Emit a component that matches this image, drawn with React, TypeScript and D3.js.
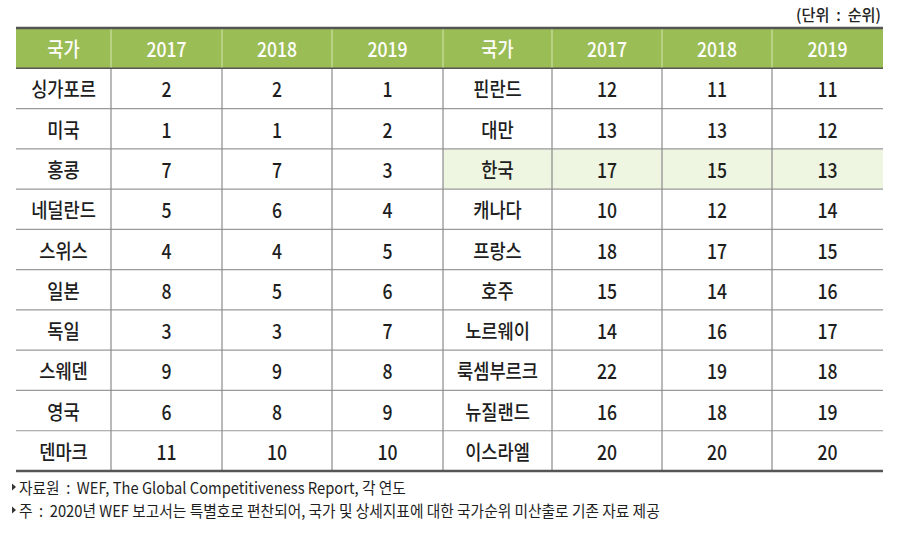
import React from "react";
import * as d3 from "d3";

const years = ["2017", "2018", "2019"];
const leftCountries = ["싱가포르", "미국", "홍콩", "네덜란드", "스위스", "일본", "독일", "스웨덴", "영국", "덴마크"];
const left2017 = [2, 1, 7, 5, 4, 8, 3, 9, 6, 11];
const left2018 = [2, 1, 7, 6, 4, 5, 3, 9, 8, 10];
const left2019 = [1, 2, 3, 4, 5, 6, 7, 8, 9, 10];
const rightCountries = ["핀란드", "대만", "한국", "캐나다", "프랑스", "호주", "노르웨이", "룩셈부르크", "뉴질랜드", "이스라엘"];
const right2017 = [12, 13, 17, 10, 18, 15, 14, 22, 16, 20];
const right2018 = [11, 13, 15, 12, 17, 14, 16, 19, 18, 20];
const right2019 = [11, 12, 13, 14, 15, 16, 17, 18, 19, 20];
const highlight = "한국";
const unitLabel = "(단위  :  순위)";
const notes = [
  "자료원  :  WEF, The Global Competitiveness Report, 각 연도",
  "주  :  2020년 WEF 보고서는 특별호로 편찬되어, 국가 및 상세지표에 대한 국가순위 미산출로 기존 자료 제공",
];

const W = 902;
const H = 535;
const colEdges = [16, 111, 222, 332, 443, 552, 662, 772, 883];
const FONT = "'Noto Sans CJK KR', 'Noto Sans', sans-serif";

export default function App() {
  const rowKeys = ["header", ...leftCountries.map((_, i) => String(i))];
  const y = d3.scaleBand<string>().domain(rowKeys).range([28, 471]);
  const bw = y.bandwidth();

  const rows = leftCountries.map((c, i) => [
    c,
    String(left2017[i]),
    String(left2018[i]),
    String(left2019[i]),
    rightCountries[i],
    String(right2017[i]),
    String(right2018[i]),
    String(right2019[i]),
  ]);
  const header = ["국가", ...years, "국가", ...years];
  const cx = (j: number) => (colEdges[j] + colEdges[j + 1]) / 2;
  const tableL = colEdges[0];
  const tableR = colEdges[colEdges.length - 1];

  const cellText = (t: string, x: number, yy: number, fill: string, key: string, size: number, weight: number) => (
    <text
      key={key}
      transform={`translate(${x},${yy}) scale(0.88,1)`}
      textAnchor="middle"
      dominantBaseline="central"
      fontFamily={FONT}
      fontSize={size}
      fontWeight={weight}
      fill={fill}
    >
      {t}
    </text>
  );

  return (
    <svg width={W} height={H} style={{ position: "absolute", left: 0, top: 0, background: "#fff" }}>
      {/* unit */}
      <text
        transform={`translate(${tableR - 2},14) scale(0.95,1)`}
        textAnchor="end"
        dominantBaseline="central"
        fontFamily={FONT}
        fontSize={16}
        fontWeight={500}
        fill="#222"
        style={{ whiteSpace: "pre" }}
      >
        {unitLabel}
      </text>

      {/* header */}
      <rect x={tableL} y={y("header")} width={tableR - tableL} height={bw} fill="#9bbd55" />
      {colEdges.slice(1, -1).map((e) => (
        <line key={"hv" + e} x1={e} x2={e} y1={y("header")!} y2={y("header")! + bw} stroke="#d4e4b0" strokeWidth={1} />
      ))}
      {header.map((h, j) => cellText(h, cx(j), y("header")! + bw / 2, "#fff", "h" + j, 20, 500))}

      {/* highlight */}
      {rightCountries.map((c, i) =>
        c === highlight ? (
          <rect key={"hl" + i} x={colEdges[4]} y={y(String(i))} width={tableR - colEdges[4]} height={bw} fill="#eef5e1" />
        ) : null
      )}

      {/* row lines */}
      {leftCountries.slice(1).map((_, i) => (
        <line key={"rl" + i} x1={tableL} x2={tableR} y1={y(String(i + 1))!} y2={y(String(i + 1))!} stroke="#9a9a9a" strokeWidth={1.2} />
      ))}
      {/* body verticals */}
      {colEdges.slice(1, -1).map((e) => (
        <line key={"bv" + e} x1={e} x2={e} y1={y("0")!} y2={471} stroke="#8a8a8a" strokeWidth={1.2} />
      ))}

      {/* borders */}
      <line x1={tableL} x2={tableR} y1={28} y2={28} stroke="#555" strokeWidth={2.5} />
      <line x1={tableL} x2={tableR} y1={y("0")!} y2={y("0")!} stroke="#555" strokeWidth={1.5} />
      <line x1={tableL} x2={tableR} y1={471} y2={471} stroke="#555" strokeWidth={2.5} />

      {/* body text */}
      {rows.map((r, i) => r.map((t, j) => cellText(t, cx(j), y(String(i))! + bw / 2, "#1e1e1e", `c${i}-${j}`, 20, 500)))}

      {/* notes */}
      {notes.map((n, i) => (
        <g key={"n" + i} transform={`translate(12,${487 + i * 23})`}>
          <path d="M0,-3.5 L4,0 L0,3.5 Z" fill="#333" />
          <text
            transform="translate(7,0) scale(0.92,1)"
            dominantBaseline="central"
            fontFamily={FONT}
            fontSize={16}
            fill="#1e1e1e"
            style={{ whiteSpace: "pre" }}
          >
            {n}
          </text>
        </g>
      ))}
    </svg>
  );
}
